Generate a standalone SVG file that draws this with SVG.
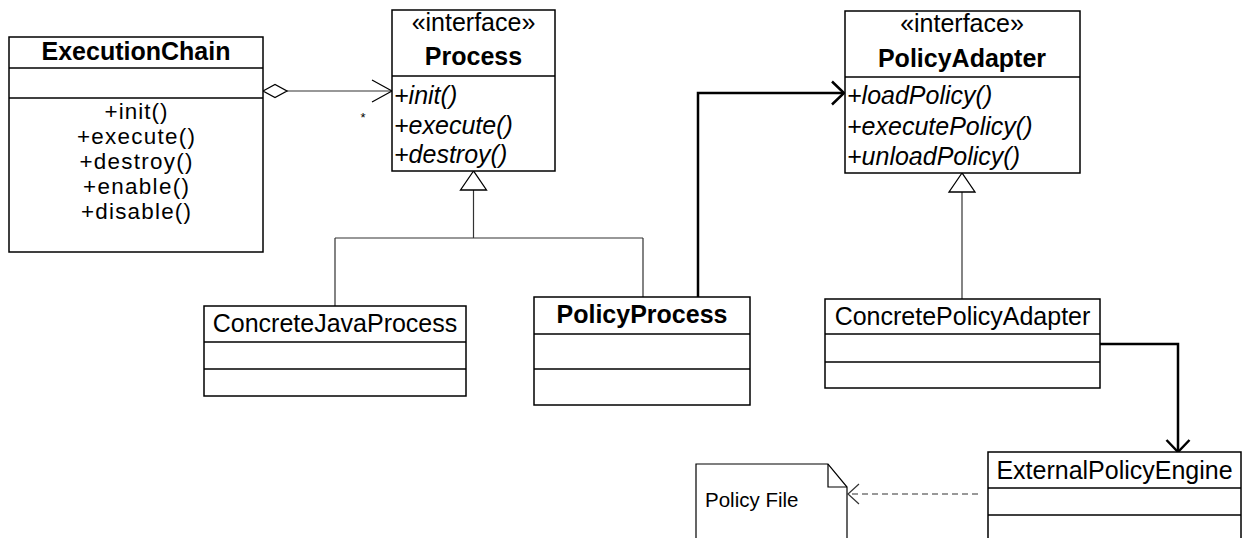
<svg xmlns="http://www.w3.org/2000/svg" width="1243" height="538" viewBox="0 0 1243 538">
<style>
.box{fill:#fff;stroke:#000;stroke-width:1.5}
.div{stroke:#000;stroke-width:1.5}
.t{font-family:"Liberation Sans",Arial,sans-serif;font-size:25px;fill:#000}
.m{font-size:22.4px}
.b{font-weight:bold}
.i{font-style:italic}
.c{text-anchor:middle}
.thin{fill:none;stroke:#333;stroke-width:1.2}
.thick{fill:none;stroke:#000;stroke-width:2.5}
.dash{fill:none;stroke:#333;stroke-width:1.2;stroke-dasharray:6 4}
.tri{fill:#fff;stroke:#000;stroke-width:1.3}
marker{overflow:visible}
</style>
<defs>
<marker id="openThin" markerUnits="userSpaceOnUse" viewBox="0 0 20 22" refX="20" refY="11" markerWidth="20" markerHeight="22" orient="auto">
<path d="M0,0 L20,11 L0,22" fill="none" stroke="#000" stroke-width="1.2"/>
</marker>
<marker id="openThick" markerUnits="userSpaceOnUse" viewBox="0 0 12 24" refX="12" refY="12" markerWidth="12" markerHeight="24" orient="auto">
<path d="M0,0.5 L12,12 L0,23.5" fill="none" stroke="#000" stroke-width="2.5"/>
</marker>
<marker id="openDash" markerUnits="userSpaceOnUse" viewBox="0 0 11 20" refX="11" refY="10" markerWidth="11" markerHeight="20" orient="auto">
<path d="M0,0 L11,10 L0,20" fill="none" stroke="#333" stroke-width="1.2"/>
</marker>
</defs>

<g id="connectors">
<!-- aggregation ExecutionChain -> Process -->
<line class="thin" x1="287" y1="91" x2="392" y2="91" marker-end="url(#openThin)"/>
<polygon class="tri" points="263,91 275,84.5 287,91 275,97.5"/>
<text class="t" x="363" y="122" style="font-size:13px" text-anchor="middle">*</text>
<!-- generalization to Process -->
<path class="thin" d="M473.5,190 V238 M335,238 H643 M335,238 V306 M643,238 V297"/>
<polygon class="tri" points="473.5,171 460.5,190 486.5,190"/>
<!-- PolicyProcess -> PolicyAdapter -->
<path class="thick" d="M698,297 V93 H844" marker-end="url(#openThick)"/>
<!-- generalization to PolicyAdapter -->
<path class="thin" d="M962,192 V299"/>
<polygon class="tri" points="962,173 949,192 975,192"/>
<!-- ConcretePolicyAdapter -> ExternalPolicyEngine -->
<path class="thick" d="M1100,344 H1178 V452" marker-end="url(#openThick)"/>
<!-- dependency ExternalPolicyEngine -> Policy File -->
<line class="dash" x1="978" y1="494" x2="848" y2="494" marker-end="url(#openDash)"/>
</g>

<g id="ExecutionChain">
<rect class="box" x="9" y="37" width="254" height="215"/>
<line class="div" x1="9" y1="68" x2="263" y2="68"/>
<line class="div" x1="9" y1="98" x2="263" y2="98"/>
<text class="t b c" x="136" y="60">ExecutionChain</text>
<text class="t m c" x="136" y="119" textLength="63">+init()</text>
<text class="t m c" x="136" y="144" textLength="118">+execute()</text>
<text class="t m c" x="136" y="169" textLength="113">+destroy()</text>
<text class="t m c" x="136" y="194" textLength="106">+enable()</text>
<text class="t m c" x="136" y="219" textLength="110">+disable()</text>
</g>

<g id="Process">
<rect class="box" x="392" y="10" width="163" height="161"/>
<line class="div" x1="392" y1="76" x2="555" y2="76"/>
<text class="t c" x="473.5" y="31">«interface»</text>
<text class="t b c" x="473.5" y="65">Process</text>
<text class="t i" x="394" y="104">+init()</text>
<text class="t i" x="394" y="134">+execute()</text>
<text class="t i" x="394" y="163">+destroy()</text>
</g>

<g id="PolicyAdapter">
<rect class="box" x="845" y="11" width="235" height="162"/>
<line class="div" x1="845" y1="77" x2="1080" y2="77"/>
<text class="t c" x="962" y="32">«interface»</text>
<text class="t b c" x="962" y="67">PolicyAdapter</text>
<text class="t i" x="847" y="104">+loadPolicy()</text>
<text class="t i" x="847" y="135">+executePolicy()</text>
<text class="t i" x="847" y="165">+unloadPolicy()</text>
</g>

<g id="ConcreteJavaProcess">
<rect class="box" x="204" y="306" width="262" height="90"/>
<line class="div" x1="204" y1="342" x2="466" y2="342"/>
<line class="div" x1="204" y1="369" x2="466" y2="369"/>
<text class="t c" x="335" y="332">ConcreteJavaProcess</text>
</g>

<g id="PolicyProcess">
<rect class="box" x="534" y="297" width="216" height="108"/>
<line class="div" x1="534" y1="334" x2="750" y2="334"/>
<line class="div" x1="534" y1="369" x2="750" y2="369"/>
<text class="t b c" x="642" y="323">PolicyProcess</text>
</g>

<g id="ConcretePolicyAdapter">
<rect class="box" x="825" y="299" width="275" height="89"/>
<line class="div" x1="825" y1="334" x2="1100" y2="334"/>
<line class="div" x1="825" y1="362" x2="1100" y2="362"/>
<text class="t c" x="962.5" y="325">ConcretePolicyAdapter</text>
</g>

<g id="ExternalPolicyEngine">
<rect class="box" x="988" y="452" width="253" height="100"/>
<line class="div" x1="988" y1="488" x2="1241" y2="488"/>
<line class="div" x1="988" y1="515" x2="1241" y2="515"/>
<text class="t c" x="1114.5" y="479">ExternalPolicyEngine</text>
</g>

<g id="PolicyFile">
<path d="M696,545 V464 H828 L847,487 V545" fill="#fff" stroke="#000" stroke-width="1.2"/>
<path d="M828,464 V487 H847" fill="none" stroke="#000" stroke-width="1.2"/>
<text class="t" x="705" y="507" style="font-size:20.5px">Policy File</text>
</g>
</svg>
